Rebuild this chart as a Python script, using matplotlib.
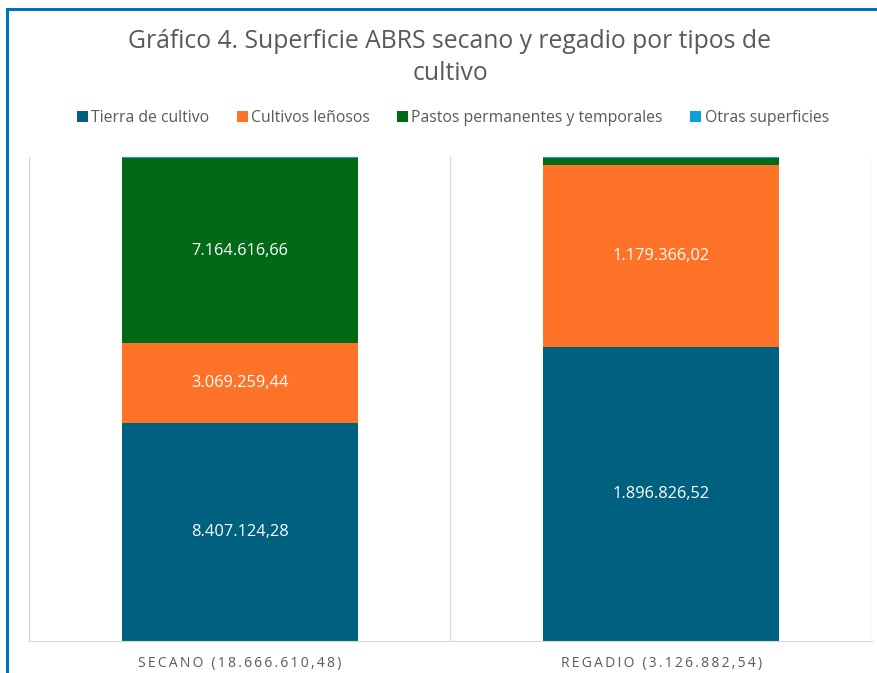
import matplotlib
matplotlib.use("Agg")
import matplotlib.pyplot as plt
from matplotlib.patches import Rectangle, Patch
import numpy as np

categories = ["SECANO", "REGADIO"]
totals = [18666610.48, 3126882.54]
series_names = ["Tierra de cultivo", "Cultivos leñosos",
                "Pastos permanentes y temporales", "Otras superficies"]
tierra = [8407124.28, 1896826.52]
lenosos = [3069259.44, 1179366.02]
pastos = [7164616.66, 46700.00]
otras = [25610.10, 3990.00]
colors = ["#00607F", "#FF7329", "#026916", "#0AA0D8"]

def es(v):
    s = f"{v:,.2f}"
    return s.replace(",", "X").replace(".", ",").replace("X", ".")

def spaced(s):
    return "\u2009".join(s)

plt.rcParams['font.family'] = ['Open Sans', 'DejaVu Sans']
W, H = 878, 673
fig = plt.figure(figsize=(W/100, H/100), dpi=100)

# border
fig.patches.append(Rectangle((7.5/W, -0.1), 1.2, 1 - 9.5/H + 0.1,
                             transform=fig.transFigure, fill=False,
                             edgecolor="#0070C0", linewidth=2.2, zorder=0))

ax = fig.add_axes([29/W, 32/H, (872-29)/W, (641-157)/H])
series = [tierra, lenosos, pastos, otras]
x = np.arange(len(categories))
bottom = np.zeros(len(categories))
for name, vals, c in zip(series_names, series, colors):
    frac = np.array(vals) / np.array(totals) * 100
    ax.bar(x, frac, 0.56, bottom=bottom, color=c, label=name, zorder=2)
    for i, (f, v) in enumerate(zip(frac, vals)):
        if f > 10:
            ax.text(x[i], bottom[i] + f/2, es(v), ha="center", va="center",
                    color="white", fontsize=11.8, zorder=3)
    bottom += frac

ax.set_xlim(-0.5, len(categories) - 0.5)
ax.set_ylim(0, 100)
for b in np.arange(-0.5, len(categories), 1.0):
    ax.axvline(b, color="#D9D9D9", lw=1, zorder=1)
for s in ["top", "right", "left"]:
    ax.spines[s].set_visible(False)
ax.spines["bottom"].set_color("#D9D9D9")
ax.set_yticks([])
ax.set_xticks(x)
ax.set_xticklabels([spaced(f"{c} ({es(t)})") for c, t in zip(categories, totals)],
                   color="#595959", fontsize=10)
ax.tick_params(axis="x", length=0, pad=11)

fig.text(450/W, 1 - 42/H, "Gráfico 4. Superficie ABRS secano y regadio por tipos de",
         ha="center", va="center", fontsize=17.8, color="#595959")
fig.text(450/W, 1 - 74/H, "cultivo", ha="center", va="center",
         fontsize=17.8, color="#595959")

handles = [Patch(facecolor=c, label=n) for n, c in zip(series_names, colors)]
fig.legend(handles=handles, loc="center", bbox_to_anchor=(453/W, 1 - 118/H),
           ncol=4, frameon=False, fontsize=11.3, handlelength=0.7, handleheight=0.7,
           handletextpad=0.2, columnspacing=1.75, labelcolor="#595959")

fig.savefig("out.png", dpi=100)
